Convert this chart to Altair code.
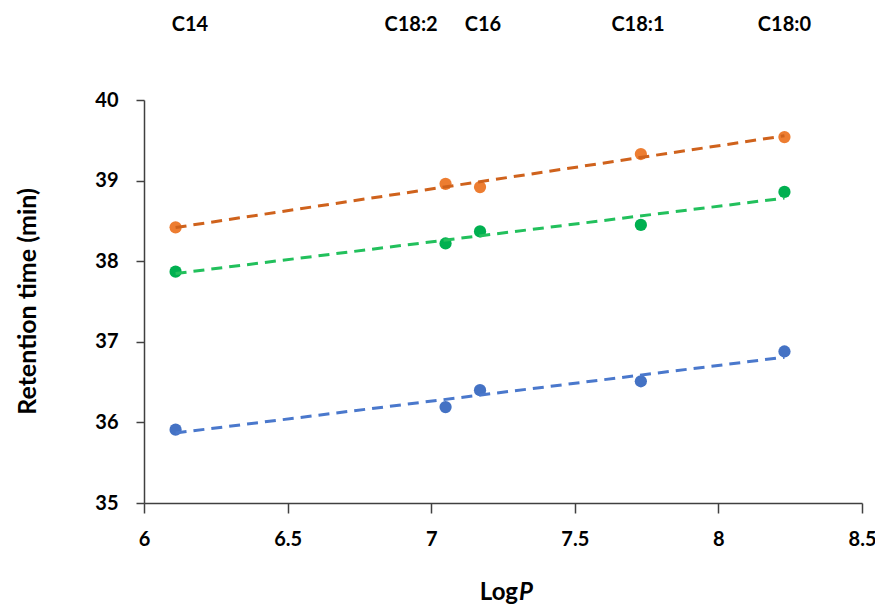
import altair as alt
import pandas as pd

compounds = ["C14", "C18:2", "C16", "C18:1", "C18:0"]
logp = [6.11, 7.05, 7.17, 7.73, 8.23]
rt_orange = [38.42, 38.96, 38.92, 39.33, 39.54]
rt_green = [37.87, 38.22, 38.37, 38.45, 38.86]
rt_blue = [35.91, 36.19, 36.40, 36.51, 36.88]
label_logp = [6.16, 6.93, 7.18, 7.72, 8.23]

series_names = ["orange", "green", "blue"]
point_colors = ["#ED7D31", "#00B050", "#4472C4"]
line_colors = ["#CF621C", "#22C05C", "#4A78CC"]

rows = []
for name, vals in zip(series_names, [rt_orange, rt_green, rt_blue]):
    for c, x, y in zip(compounds, logp, vals):
        rows.append({"series": name, "compound": c, "logp": x, "rt": y})
df = pd.DataFrame(rows)
labels_df = pd.DataFrame({"logp": label_logp, "name": compounds})

FONT = "Lato"

x_enc = alt.X(
    "logp:Q",
    scale=alt.Scale(domain=[6, 8.5], nice=False, zero=False),
    axis=alt.Axis(
        values=[6, 6.5, 7, 7.5, 8, 8.5],
        title=None,
        labelFont=FONT, labelFontSize=20, labelFontWeight="bold", labelColor="#000000",
        tickSize=10, labelPadding=16, grid=False,
        domainColor="#404040", tickColor="#404040", domainWidth=1.5, tickWidth=1.5,
        labelFlush=False,
        format="~g",
    ),
)
y_enc = alt.Y(
    "rt:Q",
    scale=alt.Scale(domain=[35, 40], nice=False, zero=False),
    axis=alt.Axis(
        values=[35, 36, 37, 38, 39, 40],
        format="d",
        title="Retention time (min)",
        titleFont=FONT, titleFontSize=25, titleFontWeight="bold", titleColor="#000000",
        titleX=-117, titleY=201, titleAngle=270, titleAlign="center", titleBaseline="middle",
        labelFont=FONT, labelFontSize=20, labelFontWeight="bold", labelColor="#000000",
        tickSize=8, labelPadding=18, grid=False,
        domainColor="#404040", tickColor="#404040", domainWidth=1.5, tickWidth=1.5,
        labelFlush=False,
    ),
)

points = alt.Chart(df).mark_circle(size=150, opacity=1).encode(
    x=x_enc,
    y=y_enc,
    fill=alt.Fill("series:N", scale=alt.Scale(domain=series_names, range=point_colors), legend=None),
)

lines = alt.Chart(df).transform_regression(
    "logp", "rt", groupby=["series"], method="linear"
).mark_line(strokeDash=[11, 7], strokeWidth=3).encode(
    x="logp:Q",
    y="rt:Q",
    stroke=alt.Stroke("series:N", scale=alt.Scale(domain=series_names, range=line_colors), legend=None),
    detail="series:N",
)

top_labels = alt.Chart(labels_df).mark_text(
    font=FONT, fontSize=20, fontWeight="bold", color="#000000", baseline="middle", align="center"
).encode(
    x="logp:Q",
    y=alt.value(-75),
    text="name:N",
)

xt_log = alt.Chart(pd.DataFrame({"t": ["Log"]})).mark_text(
    font=FONT, fontSize=24, fontWeight="bold", color="#000000", align="right", baseline="middle"
).encode(x=alt.value(374), y=alt.value(493), text="t:N")

xt_p = alt.Chart(pd.DataFrame({"t": ["P"]})).mark_text(
    font=FONT, fontSize=24, fontWeight="bold", fontStyle="italic", color="#000000",
    align="left", baseline="middle"
).encode(x=alt.value(375), y=alt.value(493), text="t:N")

chart = alt.layer(points, lines, top_labels, xt_log, xt_p).properties(
    width=718,
    height=403,
    padding={"left": 136, "top": 92, "right": 13, "bottom": 102},
    autosize=alt.AutoSizeParams(type="none"),
    background="#FFFFFF",
).configure_view(stroke=None)

chart.save("out.html", embed_options={"renderer": "svg", "actions": False})
